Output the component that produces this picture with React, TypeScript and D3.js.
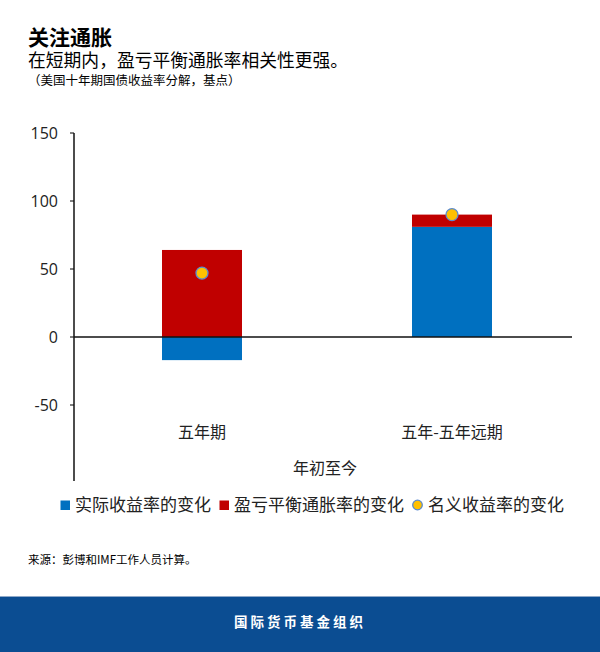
import React from "react";
import * as d3 from "d3";

const categories = ["五年期", "五年-五年远期"];
const realYield = [-17, 81];
const breakeven = [64, 9];
const nominal = [47, 90];
const yTicks = [150, 100, 50, 0, -50];
const legendLabels = ["实际收益率的变化", "盈亏平衡通胀率的变化", "名义收益率的变化"];

const BLUE = "#0070C0";
const RED = "#C00000";
const YELLOW = "#FFC000";
const CJK = "'Noto Sans CJK SC', 'Noto Sans', sans-serif";
const NUM = "'Open Sans', 'Noto Sans', sans-serif";

export default function App() {
  const W = 600, H = 652;
  const y = d3.scaleLinear().domain([-50, 150]).range([405, 133]);
  const x = d3.scaleBand<string>().domain(categories).range([77, 577]).paddingInner(0.68).paddingOuter(0.34);
  const axisX = 74;

  const stacks = categories.map((c, i) => {
    const r = realYield[i], b = breakeven[i];
    const segs: { v0: number; v1: number; color: string }[] = [];
    let pos = 0, neg = 0;
    [[r, BLUE], [b, RED]].forEach(([v, col]) => {
      const val = v as number;
      if (val >= 0) { segs.push({ v0: pos, v1: pos + val, color: col as string }); pos += val; }
      else { segs.push({ v0: neg + val, v1: neg, color: col as string }); neg += val; }
    });
    return { c, segs };
  });

  return (
    <svg width={W} height={H} style={{ position: "absolute", left: 0, top: 0, background: "#fff" }}>
      <rect x={0} y={0} width={W} height={H} fill="#fff" />
      <text x={28} y={45} fontFamily={CJK} fontSize={21} fontWeight={700} fill="#000">关注通胀</text>
      <text x={28} y={67} fontFamily={CJK} fontSize={17.8} fill="#000">在短期内，盈亏平衡通胀率相关性更强。</text>
      <text x={28} y={85} fontFamily={CJK} fontSize={12.5} fill="#000">（美国十年期国债收益率分解，基点）</text>

      {yTicks.map((t) => (
        <g key={t}>
          <line x1={axisX - 4} x2={axisX} y1={y(t)} y2={y(t)} stroke="#000" strokeWidth={1} />
          <text x={58} y={y(t)} dy="0.35em" textAnchor="end" fontFamily={NUM} fontSize={16} fill="#222">{t}</text>
        </g>
      ))}

      {stacks.map((s) =>
        s.segs.map((g, j) => (
          <rect key={s.c + j} x={x(s.c)} width={x.bandwidth()} y={y(g.v1)} height={y(g.v0) - y(g.v1)} fill={g.color} />
        ))
      )}

      <line x1={axisX} x2={572} y1={y(0)} y2={y(0)} stroke="#111" strokeWidth={1.5} />
      <line x1={axisX} x2={axisX} y1={133} y2={481} stroke="#111" strokeWidth={1.5} />

      {categories.map((c, i) => (
        <circle key={c} cx={(x(c) as number) + x.bandwidth() / 2} cy={y(nominal[i])} r={6} fill={YELLOW} stroke="#5B8BD0" strokeWidth={1.3} />
      ))}

      {categories.map((c) => (
        <text key={c} x={(x(c) as number) + x.bandwidth() / 2} y={432} dy="0.35em" textAnchor="middle" fontFamily={CJK} fontSize={16} fill="#222">{c}</text>
      ))}
      <text x={325} y={468} dy="0.35em" textAnchor="middle" fontFamily={CJK} fontSize={16} fill="#222">年初至今</text>

      <rect x={60.5} y={500.5} width={9.5} height={9.5} fill={BLUE} />
      <text x={75} y={505} dy="0.35em" fontFamily={CJK} fontSize={17} fill="#222">{legendLabels[0]}</text>
      <rect x={219.5} y={500.5} width={9.5} height={9.5} fill={RED} />
      <text x={234} y={505} dy="0.35em" fontFamily={CJK} fontSize={17} fill="#222">{legendLabels[1]}</text>
      <circle cx={417.5} cy={505} r={4.8} fill={YELLOW} stroke="#5B8BD0" strokeWidth={1.3} />
      <text x={428} y={505} dy="0.35em" fontFamily={CJK} fontSize={17} fill="#222">{legendLabels[2]}</text>

      <text x={28} y={560} dy="0.35em" fontFamily={CJK} fontSize={11.5} fill="#000">来源：彭博和IMF工作人员计算。</text>

      <rect x={0} y={596} width={W} height={56} fill="#0B4D92" />
      <line x1={0} x2={W} y1={596.5} y2={596.5} stroke="#8FA9C9" strokeWidth={1} />
      <text x={300} y={622} dy="0.35em" textAnchor="middle" fontFamily={CJK} fontSize={13.5} fontWeight={700} letterSpacing={3} fill="#fff">国际货币基金组织</text>
    </svg>
  );
}
